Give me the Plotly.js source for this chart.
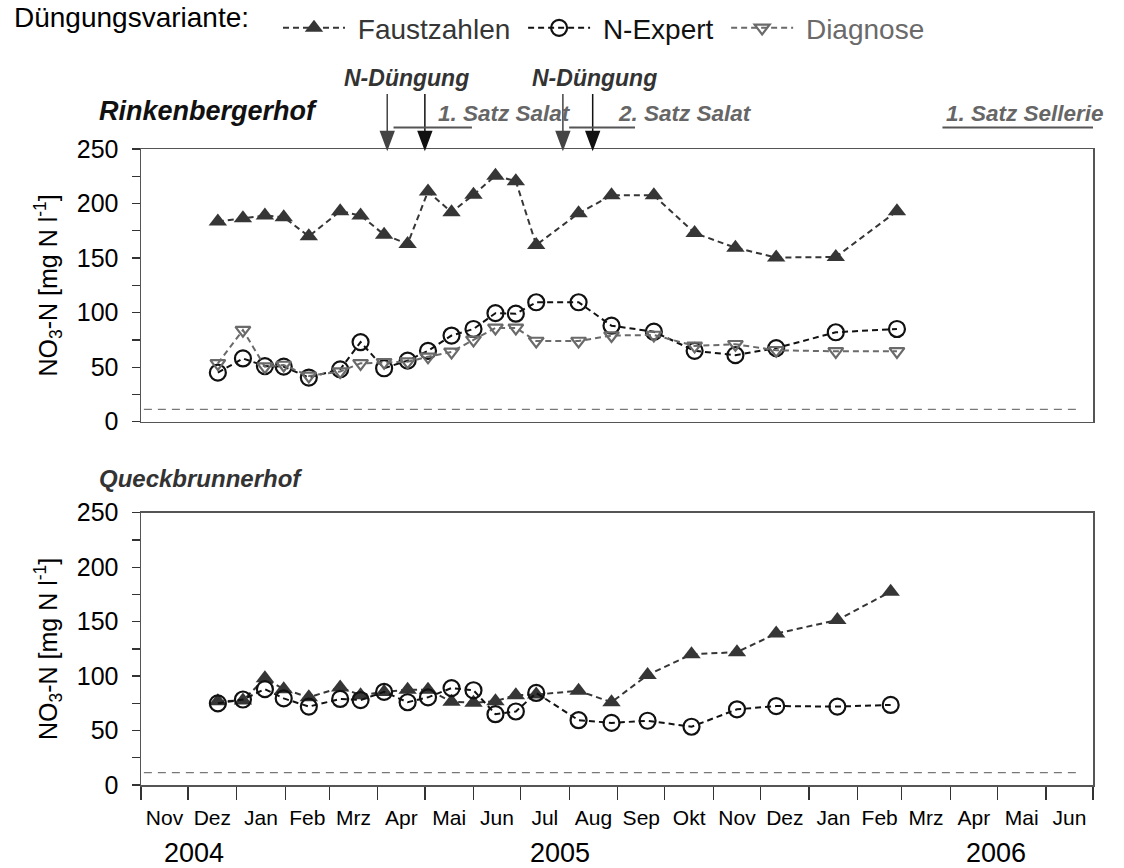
<!DOCTYPE html>
<html>
<head>
<meta charset="utf-8">
<script src="https://cdn.plot.ly/plotly-3.0.1.min.js"></script>
<style>html,body{margin:0;padding:0;background:#fff;}#chart{width:1124px;height:868px;}</style>
</head>
<body>
<div id="chart"></div>
<script>
// ---------------- data ----------------
const seriesNames = ['Faustzahlen', 'N-Expert', 'Diagnose'];

// Rinkenbergerhof (top panel)
const datesTop = ['2004-12-20','2005-01-05','2005-01-19','2005-01-31','2005-02-16','2005-03-08','2005-03-21',
  '2005-04-05','2005-04-20','2005-05-03','2005-05-18','2005-06-01','2005-06-15','2005-06-28','2005-07-11',
  '2005-08-07','2005-08-28','2005-09-24','2005-10-20','2005-11-15','2005-12-11','2006-01-18','2006-02-26'];
const faustTop = [183.5,186.5,189,187.5,170,193,189,171.5,163,211,192,208,225.5,220.5,162,191,207.5,207.5,173,159.5,150.5,151,193];
const expertTop = [45,58,51,50.5,40.5,48,73,49,56,65,79,85,99.5,99,109.5,109.5,88,82.5,65,61,67.5,82,85];
const diagTop = [53.5,84,50.5,52,42,46,53.5,54.5,55,59.5,64,75,86,86,74,74,79,79.5,69.5,71,65.5,64.5,64.5];

// Queckbrunnerhof (bottom panel)
const datesBottom = ['2004-12-20','2005-01-05','2005-01-19','2005-01-31','2005-02-16','2005-03-08','2005-03-21',
  '2005-04-05','2005-04-20','2005-05-03','2005-05-18','2005-06-01','2005-06-15','2005-06-28','2005-07-11',
  '2005-08-07','2005-08-28','2005-09-20','2005-10-18','2005-11-16','2005-12-11','2006-01-19','2006-02-22'];
const faustBottom = [77,77.5,98,88,80.5,89.5,82.5,85.5,87.5,87.5,76.5,75.5,77,82.5,83,86.5,76,101,120,122,139,151.5,177.5];
const expertBottom = [75,78.5,88,79.5,72,79,78,85.5,76,80.5,89,87,65,67.5,84.5,59.5,57,59,53.5,69.5,72.5,72,73.5];

// limit value (50 mg NO3/l = 11.3 mg NO3-N/l)
const limitValue = 11.3;

// axis
const xRange = ['2004-11-01', '2006-07-01'];
const yRange = [0, 250];
const monthLabels = ['Jan','Feb','Mrz','Apr','Mai','Jun','Jul','Aug','Sep','Okt','Nov','Dez'];
const monthNames = ['Januar','Februar','März','April','Mai','Juni','Juli','August','September','Oktober','November','Dezember'];
const yearLabels = ['2004', '2005', '2006'];
const yearDates = ['2004-12-05', '2005-07-26', '2006-04-30'];

// event annotations (top panel)
const fertDates = ['2005-04-07', '2005-05-01', '2005-07-28', '2005-08-16'];
const fertLabels = ['N-Düngung', 'N-Düngung'];
const fertLabelDates = ['2005-04-19', '2005-08-17'];
const cropLabels = ['1. Satz Salat', '2. Satz Salat', '1. Satz Sellerie'];
const cropLabelDates = ['2005-05-08', '2005-08-31', '2006-03-28'];
const cropStart = ['2005-04-11', '2005-08-01', '2006-03-27'];
const cropEnd = ['2005-05-31', '2005-09-12', '2006-07-02'];

// ---------------- locale ----------------
Plotly.register({
  moduleType: 'locale', name: 'de-chart', dictionary: {},
  format: {
    days: ['Sonntag','Montag','Dienstag','Mittwoch','Donnerstag','Freitag','Samstag'],
    shortDays: ['So','Mo','Di','Mi','Do','Fr','Sa'],
    months: monthNames, shortMonths: monthLabels, date: '%d.%m.%Y', decimal: ',', thousands: '.'
  }
});

// ---------------- styles ----------------
const FONT = 'Arial, "Liberation Sans", sans-serif';
const cFaust = '#363636', cExpert = '#111111', cDiag = '#6a6a6a';
const dashPat = '6px,4px';
const axisCol = '#555555';
const NB = '&nbsp;';

function legName(name, col) {
  return NB + '<span style="color:' + col + '">' + name + '</span>' + NB;
}
function traceFaust(x, y, xa, ya, legend) {
  return {x: x, y: y, xaxis: xa, yaxis: ya, type: 'scatter', mode: 'lines+markers',
    name: legName(seriesNames[0], cFaust), showlegend: legend, legendrank: 1,
    line: {color: cFaust, width: 2, dash: dashPat},
    marker: {symbol: 'triangle-up', size: 16, color: cFaust, line: {width: 0}}};
}
function traceExpert(x, y, xa, ya, legend) {
  return {x: x, y: y, xaxis: xa, yaxis: ya, type: 'scatter', mode: 'lines+markers',
    name: legName(seriesNames[1], cExpert), showlegend: legend, legendrank: 2,
    line: {color: cExpert, width: 2, dash: dashPat},
    marker: {symbol: 'circle-open', size: 16, color: cExpert, line: {width: 2.2, color: cExpert}}};
}
function traceDiag(x, y, xa, ya, legend) {
  return {x: x, y: y, xaxis: xa, yaxis: ya, type: 'scatter', mode: 'lines+markers',
    name: legName(seriesNames[2], cDiag), showlegend: legend, legendrank: 3,
    line: {color: cDiag, width: 2, dash: dashPat},
    marker: {symbol: 'triangle-down-open', size: 13, color: cDiag, line: {width: 2.2, color: cDiag}}};
}

const traces = [
  traceFaust(datesTop, faustTop, 'x2', 'y2', true),
  traceExpert(datesTop, expertTop, 'x2', 'y2', true),
  traceDiag(datesTop, diagTop, 'x2', 'y2', true),
  traceFaust(datesBottom, faustBottom, 'x', 'y', false),
  traceExpert(datesBottom, expertBottom, 'x', 'y', false)
];

const yTitle = {text: 'NO<sub>3</sub>-N [mg N l<sup>-1</sup>]', font: {family: FONT, size: 25, color: '#000'}, standoff: 12};
function yAxis(domain) {
  return {domain: domain, range: yRange, dtick: 50, tick0: 0, ticks: 'outside', ticklen: 8, tickwidth: 1.3, tickcolor: '#333',
    minor: {dtick: 25, tick0: 0, ticks: 'outside', ticklen: 8, tickwidth: 1.3, tickcolor: '#333', showgrid: false},
    showgrid: false, zeroline: false, showline: true, linecolor: axisCol, linewidth: 1.5, mirror: true,
    tickfont: {family: FONT, size: 25, color: '#000'}, ticklabelstandoff: 8, title: yTitle, fixedrange: true};
}

const shapes = [];
// limit lines
[['x', 'y'], ['x2', 'y2']].forEach(function (r) {
  shapes.push({type: 'line', xref: r[0] + ' domain', yref: r[1], x0: 0.003, x1: 0.985, y0: limitValue, y1: limitValue,
    line: {color: '#777', width: 1.2, dash: '8px,6px'}, layer: 'below'});
});
// fertilization arrows
fertDates.forEach(function (d, i) {
  const col = i % 2 ? '#111' : '#444';
  shapes.push({type: 'path', xref: 'x2', yref: 'paper', xsizemode: 'pixel', ysizemode: 'pixel', xanchor: d, yanchor: 1,
    path: 'M0,55 V17 M-6.6,17.6 L6.6,17.6 L0,0 Z', fillcolor: col, line: {color: col, width: 1.5}});
});
// crop period lines
cropStart.forEach(function (d, i) {
  shapes.push({type: 'line', xref: 'x2', yref: 'paper', ysizemode: 'pixel', yanchor: 1, x0: d, x1: cropEnd[i], y0: 21.6, y1: 21.6,
    line: {color: '#555', width: 2}});
});

const annotations = [];
fertLabels.forEach(function (t, i) {
  annotations.push({text: '<b><i>' + t + '</i></b>', xref: 'x2', yref: 'paper', x: fertLabelDates[i], y: 1, yshift: 71,
    xanchor: 'center', yanchor: 'middle', showarrow: false, font: {family: FONT, size: 23, color: '#333'}});
});
cropLabels.forEach(function (t, i) {
  annotations.push({text: '<b><i>' + t + '</i></b>', xref: 'x2', yref: 'paper', x: cropLabelDates[i], y: 1, yshift: 36,
    xanchor: 'left', yanchor: 'middle', showarrow: false, font: {family: FONT, size: 22.5, color: '#666'}});
});
yearLabels.forEach(function (t, i) {
  annotations.push({text: t, xref: 'x', yref: 'paper', x: yearDates[i], y: -0.107, xanchor: 'center', yanchor: 'middle',
    showarrow: false, font: {family: FONT, size: 27, color: '#000'}});
});
annotations.push({text: '<b><i>Rinkenbergerhof</i></b>', xref: 'paper', yref: 'paper', x: -0.046, y: 1.059, xanchor: 'left', yanchor: 'middle',
  showarrow: false, font: {family: FONT, size: 27, color: '#111'}});
annotations.push({text: '<b><i>Queckbrunnerhof</i></b>', xref: 'paper', yref: 'paper', x: -0.046, y: 0.482, xanchor: 'left', yanchor: 'middle',
  showarrow: false, font: {family: FONT, size: 24, color: '#333'}});
annotations.push({text: 'Düngungsvariante:', xref: 'paper', yref: 'paper', x: -0.1358, y: 1.2075, xanchor: 'left', yanchor: 'middle',
  showarrow: false, font: {family: FONT, size: 28, color: '#000'}});

const layout = {
  width: 1124, height: 868,
  margin: {l: 141, r: 31, t: 149, b: 83, pad: 0, autoexpand: false},
  paper_bgcolor: '#fff', plot_bgcolor: '#fff',
  font: {family: FONT, color: '#000'},
  showlegend: true,
  legend: {orientation: 'h', x: 0.1439, xanchor: 'left', y: 1.19, yanchor: 'middle', itemwidth: 62,
    font: {family: FONT, size: 28, color: '#000'}, bgcolor: 'rgba(0,0,0,0)', borderwidth: 0, tracegroupgap: 0, itemclick: false},
  xaxis: {type: 'date', anchor: 'y', domain: [0, 1], range: xRange, dtick: 'M1', tick0: '2004-11-01', tickformat: '%b',
    ticklabelmode: 'period', ticks: 'outside', ticklen: 13, tickwidth: 1.3, tickcolor: '#333',
    showgrid: false, zeroline: false, showline: true, linecolor: axisCol, linewidth: 1.5, mirror: true,
    tickfont: {family: FONT, size: 21, color: '#000'}, fixedrange: true},
  xaxis2: {type: 'date', anchor: 'y2', matches: 'x', domain: [0, 1], range: xRange, showticklabels: false, ticks: '',
    showgrid: false, zeroline: false, showline: true, linecolor: axisCol, linewidth: 1.5, mirror: true, fixedrange: true},
  yaxis: yAxis([0, 0.4281]),
  yaxis2: Object.assign(yAxis([0.5712, 1]), {anchor: 'x2'}),
  shapes: shapes,
  annotations: annotations
};
layout.yaxis.anchor = 'x';

Plotly.newPlot('chart', traces, layout, {displayModeBar: false, staticPlot: true, locale: 'de-chart'});
</script>
</body>
</html>
